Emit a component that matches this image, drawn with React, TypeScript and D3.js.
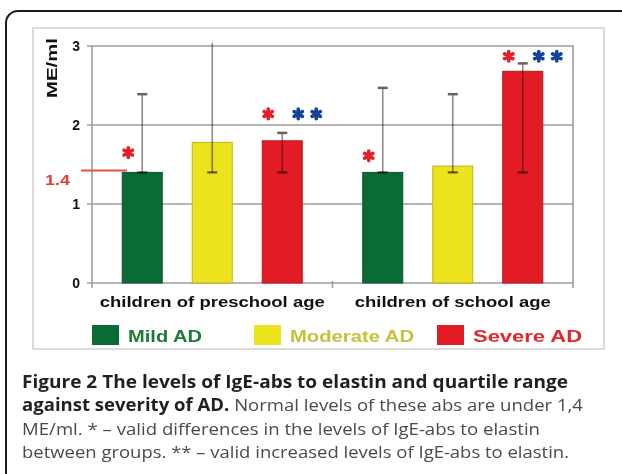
import * as d3 from "d3";

const categories = ["children of preschool age", "children of school age"];
const series = ["Mild AD", "Moderate AD", "Severe AD"];
const colors = ["#0a6b34", "#ece21d", "#e31b25"];
const legendText = ["#1d7a3a", "#c6c03c", "#e2262a"];

// median per series, one value per category
const medians = [
  [1.4, 1.4],
  [1.78, 1.48],
  [1.8, 2.68],
];
// quartile range
const lower = [
  [1.4, 1.4],
  [1.4, 1.4],
  [1.4, 1.4],
];
const upper = [
  [2.39, 2.47],
  [3.04, 2.39],
  [1.9, 2.78],
];
const yTicks = [0, 1, 2, 3];
const normalLevel = 1.4;

// significance marks: category, series, level where they sit, how many blue
const marks = [
  { cat: 0, ser: 0, at: 1.65, blue: 0 },
  { cat: 0, ser: 2, at: 2.14, blue: 2 },
  { cat: 1, ser: 0, at: 1.61, blue: 0 },
  { cat: 1, ser: 2, at: 2.87, blue: 2 },
];

const captionLines = [
  { bold: "Figure 2 The levels of IgE-abs to elastin and quartile range", normal: "", width: 546 },
  { bold: "against severity of AD.", normal: " Normal levels of these abs are under 1,4", width: 561 },
  { bold: "", normal: "ME/ml. * \u2013 valid differences in the levels of IgE-abs to elastin", width: 518 },
  { bold: "", normal: "between groups. ** \u2013 valid increased levels of IgE-abs to elastin.", width: 547 },
];

const x0 = d3.scaleBand().domain(categories).range([92, 573]);
const x1 = d3
  .scaleBand()
  .domain(series)
  .range([x0.bandwidth() / 2 - 90, x0.bandwidth() / 2 + 90])
  .paddingInner(3 / 7);
const y = d3.scaleLinear().domain([0, 3]).range([283, 46]);

function asterisk(cx: number, cy: number, r: number) {
  const p = d3.path();
  for (let k = 0; k < 3; k++) {
    const a = Math.PI / 2 + (k * Math.PI) / 3;
    p.moveTo(cx + r * Math.cos(a), cy + r * Math.sin(a));
    p.lineTo(cx - r * Math.cos(a), cy - r * Math.sin(a));
  }
  return p.toString();
}

const chartFont = "'Liberation Sans', Arial, sans-serif";

function App() {
  const [x2] = x0.range();
  const right = x0.range()[1];
  return (
    <svg
      width={622}
      height={474}
      style={{ position: "absolute", left: 0, top: 0, background: "#fff" }}
    >
      <rect x={6} y={11} width={660} height={520} rx={12} fill="#fff" stroke="#1a1a1a" strokeWidth={2} />
      <rect x={33} y={28} width={571} height={321} fill="#fff" stroke="#cfcfcf" strokeWidth={1.5} />

      {/* grid + y axis */}
      {yTicks.map((t) => (
        <g key={t}>
          <line x1={x2 - 5} x2={right + 1} y1={y(t)} y2={y(t)} stroke="#a09c9c" strokeWidth={1.6} />
          <text
            x={80}
            y={y(t)}
            dy="0.36em"
            textAnchor="end"
            fontFamily={chartFont}
            fontWeight="bold"
            fontSize={14}
            fill="#111"
          >
            {t}
          </text>
        </g>
      ))}
      <line x1={x2} x2={x2} y1={y(3)} y2={y(0) + 5} stroke="#a09c9c" strokeWidth={1.6} />
      <line x1={right} x2={right} y1={y(3)} y2={y(0) + 5} stroke="#a09c9c" strokeWidth={1.6} />
      <line x1={x0(categories[1])} x2={x0(categories[1])} y1={y(0) - 2} y2={y(0) + 5} stroke="#a09c9c" strokeWidth={1.6} />

      <text
        transform={`translate(57,68) rotate(-90)`}
        textAnchor="middle"
        fontFamily={chartFont}
        fontWeight="bold"
        fontSize={14}
        textLength={60}
        lengthAdjust="spacingAndGlyphs"
        fill="#111"
      >
        ME/ml
      </text>

      {/* normal level */}
      <line x1={81} x2={127} y1={y(normalLevel) - 2} y2={y(normalLevel) - 2} stroke="#e8504a" strokeWidth={2} />
      <text
        x={45}
        y={y(normalLevel) + 13}
        fontFamily={chartFont}
        fontWeight="bold"
        fontSize={14}
        textLength={25}
        lengthAdjust="spacingAndGlyphs"
        fill="#e0403a"
      >
        1.4
      </text>

      {/* bars */}
      {categories.map((c, ci) => (
        <g key={c} transform={`translate(${x0(c)},0)`}>
          {series.map((s, si) => (
            <rect
              key={s}
              x={x1(s)}
              y={y(medians[si][ci])}
              width={x1.bandwidth()}
              height={y(0) - y(medians[si][ci])}
              fill={colors[si]}
              stroke={d3.color(colors[si])!.darker(0.6).toString()}
              strokeWidth={1}
            />
          ))}
          {series.map((s, si) => {
            const cx = x1(s)! + x1.bandwidth() / 2;
            const top = upper[si][ci];
            return (
              <g key={s + "e"}>
                <line
                  x1={cx}
                  x2={cx}
                  y1={y(lower[si][ci])}
                  y2={y(top)}
                  stroke="#958a8a"
                  strokeWidth={1.6}
                  style={{ mixBlendMode: "multiply" }}
                />
                {top <= 3 && (
                  <line x1={cx - 5} x2={cx + 5} y1={y(top)} y2={y(top)} stroke="#6a6262" strokeWidth={2.5} />
                )}
                <line
                  x1={cx - 5}
                  x2={cx + 5}
                  y1={y(lower[si][ci])}
                  y2={y(lower[si][ci])}
                  stroke="#6a6262"
                  strokeWidth={2.2}
                  style={{ mixBlendMode: "multiply" }}
                />
              </g>
            );
          })}
          <text
            x={x0.bandwidth() / 2}
            y={307}
            textAnchor="middle"
            fontFamily={chartFont}
            fontWeight="bold"
            fontSize={15}
            textLength={ci === 0 ? 225 : 196}
            lengthAdjust="spacingAndGlyphs"
            fill="#111"
          >
            {c}
          </text>
        </g>
      ))}

      {/* significance marks */}
      {marks.map((m, i) => {
        const cx = x0(categories[m.cat])! + x1(series[m.ser])! + x1.bandwidth() / 2;
        const cy = y(m.at);
        return (
          <g key={i} fill="none" strokeLinecap="round" strokeWidth={3.6}>
            <path d={asterisk(cx - 14, cy, 4.8)} stroke="#e3202a" />
            {d3.range(m.blue).map((b) => (
              <path key={b} d={asterisk(cx + 16 + b * 18, cy, 4.8)} stroke="#13449a" />
            ))}
          </g>
        );
      })}

      {/* legend */}
      {series.map((s, si) => {
        const lx = [92, 254, 437][si];
        const tw = [74, 124, 109][si];
        return (
          <g key={s}>
            <rect x={lx} y={325} width={27} height={20} fill={colors[si]} />
            <text
              x={lx + 36}
              y={342}
              fontFamily={chartFont}
              fontWeight="bold"
              fontSize={16}
              textLength={tw}
              lengthAdjust="spacingAndGlyphs"
              fill={legendText[si]}
            >
              {s}
            </text>
          </g>
        );
      })}

      {/* caption */}
      {captionLines.map((l, i) => (
        <text
          key={i}
          x={22}
          y={388 + i * 23.3}
          fontFamily="'Open Sans', 'Noto Sans', sans-serif"
          fontSize={17}
          textLength={l.width}
          lengthAdjust="spacingAndGlyphs"
        >
          {l.bold && (
            <tspan fontWeight="bold" fill="#231f20">
              {l.bold}
            </tspan>
          )}
          {l.normal && <tspan fill="#4a4a4a">{l.normal}</tspan>}
        </text>
      ))}
    </svg>
  );
}

export default App;
